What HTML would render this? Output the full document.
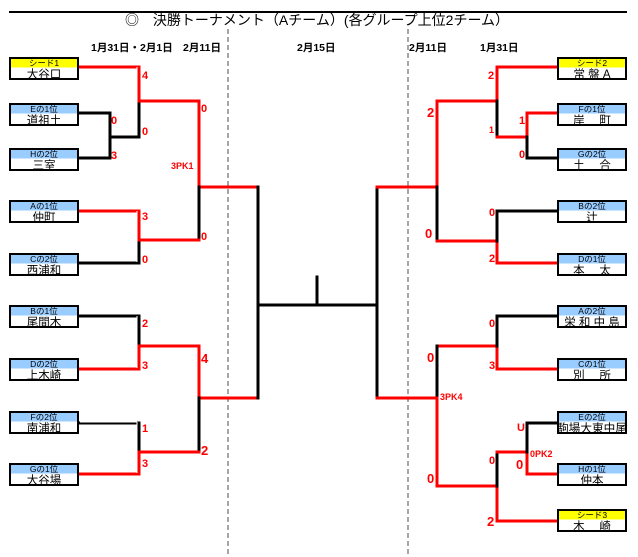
<!DOCTYPE html>
<html><head><meta charset="utf-8">
<style>
html,body{margin:0;padding:0;background:#fff;}
svg{display:block;}
text{font-family:"Liberation Sans","Noto Sans CJK JP",sans-serif;}
.t{font-size:14px;fill:#000;}
.d{font-size:10.5px;font-weight:bold;fill:#000;}
.h{font-size:8.5px;fill:#000;}
.n{font-size:11.5px;fill:#000;}
.s{font-size:11px;font-weight:bold;fill:#f00;}
.sl{font-size:13px;font-weight:bold;fill:#f00;}
.pk{font-size:9px;font-weight:bold;fill:#f00;}
.r{stroke:#f00;stroke-width:3;fill:none;stroke-linecap:square;}
.b{stroke:#000;stroke-width:3;fill:none;stroke-linecap:square;}
.w{stroke:#fff;stroke-width:1;fill:none;}
</style></head>
<body>
<svg width="638" height="557" viewBox="0 0 638 557" xmlns="http://www.w3.org/2000/svg">
<line x1="9" y1="12" x2="627" y2="12" stroke="#000" stroke-width="2"/>
<text class="t" x="317" y="25" text-anchor="middle">◎　決勝トーナメント（Aチーム）(各グループ上位2チーム）</text>
<text class="d" x="91" y="51">1月31日・2月1日</text>
<text class="d" x="183" y="51">2月11日</text>
<text class="d" x="297" y="51">2月15日</text>
<text class="d" x="409" y="51">2月11日</text>
<text class="d" x="480" y="51">1月31日</text>
<line x1="228" y1="29" x2="228" y2="557" stroke="#888" stroke-width="1.5" stroke-dasharray="5,3"/>
<line x1="408" y1="29" x2="408" y2="557" stroke="#888" stroke-width="1.5" stroke-dasharray="5,3"/>

<polyline class="b" points="79,113 110,113 110,158 79,158"/>
<polyline class="b" points="110,137 139,137 139,101"/>
<polyline class="r" points="79,67 139,67 139,101 199,101 199,187 258,187"/>
<line class="w" x1="137" y1="67" x2="137" y2="135"/>
<polyline class="b" points="199,187 199,240"/>
<polyline class="b" points="79,263 139,263 139,240"/>
<polyline class="r" points="79,211 139,211 139,240 199,240"/>
<line class="w" x1="137" y1="211" x2="137" y2="262"/>

<polyline class="b" points="79,316 139,316 139,346"/>
<polyline class="r" points="79,369 139,369 139,346 199,346 199,398 258,398"/>
<line class="w" x1="137" y1="316" x2="137" y2="368"/>
<polyline class="b" points="199,398 199,452"/>
<polyline class="b" points="79,423 139,423 139,452"/>
<line class="w" x1="80" y1="422" x2="137" y2="422"/>
<polyline class="r" points="79,474 139,474 139,452 199,452"/>
<line class="w" x1="137" y1="422" x2="137" y2="473"/>

<polyline class="b" points="258,187 258,398"/>
<polyline class="b" points="258,305 377,305"/>
<polyline class="b" points="317,277 317,305"/>
<polyline class="b" points="377,187 377,398"/>

<polyline class="r" points="377,187 437,187 437,101 497,101 497,67 557,67"/>
<polyline class="b" points="437,187 437,241"/>
<polyline class="b" points="497,101 497,137"/>
<polyline class="r" points="497,137 527,137 527,113 557,113"/>
<polyline class="b" points="527,137 527,158 557,158"/>
<polyline class="r" points="437,241 497,241 497,263 557,263"/>
<polyline class="b" points="497,241 497,211 557,211"/>

<polyline class="r" points="377,398 437,398 437,346 497,346 497,369 557,369"/>
<polyline class="b" points="437,346 437,398"/>
<polyline class="b" points="497,346 497,316 557,316"/>
<polyline class="r" points="437,398 437,486 497,486 497,521 557,521"/>
<polyline class="b" points="497,486 497,452"/>
<polyline class="r" points="497,452 527,452 527,474 557,474"/>
<polyline class="b" points="527,452 527,423 557,423"/>
<line class="w" x1="529" y1="425" x2="556" y2="425"/>
<line class="w" x1="529" y1="425" x2="529" y2="451"/>

<text class="s" x="142" y="79">4</text>
<text class="s" x="201" y="112">0</text>
<text class="s" x="111" y="124">0</text>
<text class="s" x="142" y="135">0</text>
<text class="s" x="111" y="159">3</text>
<text class="pk" x="171" y="169">3PK1</text>
<text class="s" x="142" y="220">3</text>
<text class="s" x="201" y="240">0</text>
<text class="s" x="142" y="263">0</text>
<text class="s" x="142" y="327">2</text>
<text class="sl" x="201" y="363">4</text>
<text class="s" x="142" y="369">3</text>
<text class="s" x="142" y="432">1</text>
<text class="s" x="142" y="467">3</text>
<text class="sl" x="201" y="455">2</text>
<text class="s" x="488" y="79">2</text>
<text class="sl" x="427" y="117">2</text>
<text class="pk" x="489" y="133">1</text>
<text class="s" x="519" y="124">1</text>
<text class="s" x="519" y="158">0</text>
<text class="sl" x="425" y="238">0</text>
<text class="s" x="489" y="216">0</text>
<text class="s" x="489" y="262">2</text>
<text class="s" x="489" y="327">0</text>
<text class="sl" x="427" y="362">0</text>
<text class="s" x="489" y="369">3</text>
<text class="pk" x="440" y="400">3PK4</text>
<text class="s" x="517" y="431">U</text>
<text class="pk" x="530" y="457">0PK2</text>
<text class="sl" x="516" y="469">0</text>
<text class="s" x="489" y="464">0</text>
<text class="sl" x="427" y="483">0</text>
<text class="sl" x="487" y="526">2</text>

<g>
<g transform="translate(9,57)"><rect x="1" y="1" width="68" height="9.5" fill="#ffff00"/><rect x="1" y="1" width="68" height="21" fill="none" stroke="#000" stroke-width="2"/><text class="h" x="35" y="9" text-anchor="middle">シード1</text><text class="n" x="35" y="21" text-anchor="middle">大谷口</text></g>
<g transform="translate(9,103)"><rect x="1" y="1" width="68" height="9.5" fill="#99ccff"/><rect x="1" y="1" width="68" height="21" fill="none" stroke="#000" stroke-width="2"/><text class="h" x="35" y="9" text-anchor="middle">Eの1位</text><text class="n" x="35" y="21" text-anchor="middle">道祖土</text></g>
<g transform="translate(9,148)"><rect x="1" y="1" width="68" height="9.5" fill="#99ccff"/><rect x="1" y="1" width="68" height="21" fill="none" stroke="#000" stroke-width="2"/><text class="h" x="35" y="9" text-anchor="middle">Hの2位</text><text class="n" x="35" y="21" text-anchor="middle">三室</text></g>
<g transform="translate(9,200)"><rect x="1" y="1" width="68" height="9.5" fill="#99ccff"/><rect x="1" y="1" width="68" height="21" fill="none" stroke="#000" stroke-width="2"/><text class="h" x="35" y="9" text-anchor="middle">Aの1位</text><text class="n" x="35" y="21" text-anchor="middle">仲町</text></g>
<g transform="translate(9,253)"><rect x="1" y="1" width="68" height="9.5" fill="#99ccff"/><rect x="1" y="1" width="68" height="21" fill="none" stroke="#000" stroke-width="2"/><text class="h" x="35" y="9" text-anchor="middle">Cの2位</text><text class="n" x="35" y="21" text-anchor="middle">西浦和</text></g>
<g transform="translate(9,305)"><rect x="1" y="1" width="68" height="9.5" fill="#99ccff"/><rect x="1" y="1" width="68" height="21" fill="none" stroke="#000" stroke-width="2"/><text class="h" x="35" y="9" text-anchor="middle">Bの1位</text><text class="n" x="35" y="21" text-anchor="middle">尾間木</text></g>
<g transform="translate(9,358)"><rect x="1" y="1" width="68" height="9.5" fill="#99ccff"/><rect x="1" y="1" width="68" height="21" fill="none" stroke="#000" stroke-width="2"/><text class="h" x="35" y="9" text-anchor="middle">Dの2位</text><text class="n" x="35" y="21" text-anchor="middle">上木崎</text></g>
<g transform="translate(9,411)"><rect x="1" y="1" width="68" height="9.5" fill="#99ccff"/><rect x="1" y="1" width="68" height="21" fill="none" stroke="#000" stroke-width="2"/><text class="h" x="35" y="9" text-anchor="middle">Fの2位</text><text class="n" x="35" y="21" text-anchor="middle">南浦和</text></g>
<g transform="translate(9,463)"><rect x="1" y="1" width="68" height="9.5" fill="#99ccff"/><rect x="1" y="1" width="68" height="21" fill="none" stroke="#000" stroke-width="2"/><text class="h" x="35" y="9" text-anchor="middle">Gの1位</text><text class="n" x="35" y="21" text-anchor="middle">大谷場</text></g>
<g transform="translate(557,57)"><rect x="1" y="1" width="68" height="9.5" fill="#ffff00"/><rect x="1" y="1" width="68" height="21" fill="none" stroke="#000" stroke-width="2"/><text class="h" x="35" y="9" text-anchor="middle">シード2</text><text class="n" x="35" y="21" text-anchor="middle">常 盤  A</text></g>
<g transform="translate(557,103)"><rect x="1" y="1" width="68" height="9.5" fill="#99ccff"/><rect x="1" y="1" width="68" height="21" fill="none" stroke="#000" stroke-width="2"/><text class="h" x="35" y="9" text-anchor="middle">Fの1位</text><text class="n" x="35" y="21" text-anchor="middle">岸　 町</text></g>
<g transform="translate(557,148)"><rect x="1" y="1" width="68" height="9.5" fill="#99ccff"/><rect x="1" y="1" width="68" height="21" fill="none" stroke="#000" stroke-width="2"/><text class="h" x="35" y="9" text-anchor="middle">Gの2位</text><text class="n" x="35" y="21" text-anchor="middle">土　 合</text></g>
<g transform="translate(557,200)"><rect x="1" y="1" width="68" height="9.5" fill="#99ccff"/><rect x="1" y="1" width="68" height="21" fill="none" stroke="#000" stroke-width="2"/><text class="h" x="35" y="9" text-anchor="middle">Bの2位</text><text class="n" x="35" y="21" text-anchor="middle">辻</text></g>
<g transform="translate(557,253)"><rect x="1" y="1" width="68" height="9.5" fill="#99ccff"/><rect x="1" y="1" width="68" height="21" fill="none" stroke="#000" stroke-width="2"/><text class="h" x="35" y="9" text-anchor="middle">Dの1位</text><text class="n" x="35" y="21" text-anchor="middle">本　 太</text></g>
<g transform="translate(557,305)"><rect x="1" y="1" width="68" height="9.5" fill="#99ccff"/><rect x="1" y="1" width="68" height="21" fill="none" stroke="#000" stroke-width="2"/><text class="h" x="35" y="9" text-anchor="middle">Aの2位</text><text class="n" x="35" y="21" text-anchor="middle">栄 和 中 島</text></g>
<g transform="translate(557,358)"><rect x="1" y="1" width="68" height="9.5" fill="#99ccff"/><rect x="1" y="1" width="68" height="21" fill="none" stroke="#000" stroke-width="2"/><text class="h" x="35" y="9" text-anchor="middle">Cの1位</text><text class="n" x="35" y="21" text-anchor="middle">別　 所</text></g>
<g transform="translate(557,411)"><rect x="1" y="1" width="68" height="9.5" fill="#99ccff"/><rect x="1" y="1" width="68" height="21" fill="none" stroke="#000" stroke-width="2"/><text class="h" x="35" y="9" text-anchor="middle">Eの2位</text><text class="n" x="0" y="21" textLength="70" lengthAdjust="spacingAndGlyphs">駒場大東中尾</text></g>
<g transform="translate(557,463)"><rect x="1" y="1" width="68" height="9.5" fill="#99ccff"/><rect x="1" y="1" width="68" height="21" fill="none" stroke="#000" stroke-width="2"/><text class="h" x="35" y="9" text-anchor="middle">Hの1位</text><text class="n" x="35" y="21" text-anchor="middle">仲本</text></g>
<g transform="translate(557,509)"><rect x="1" y="1" width="68" height="9.5" fill="#ffff00"/><rect x="1" y="1" width="68" height="21" fill="none" stroke="#000" stroke-width="2"/><text class="h" x="35" y="9" text-anchor="middle">シード3</text><text class="n" x="35" y="21" text-anchor="middle">木　 崎</text></g>
</g>
</svg>
</body></html>
